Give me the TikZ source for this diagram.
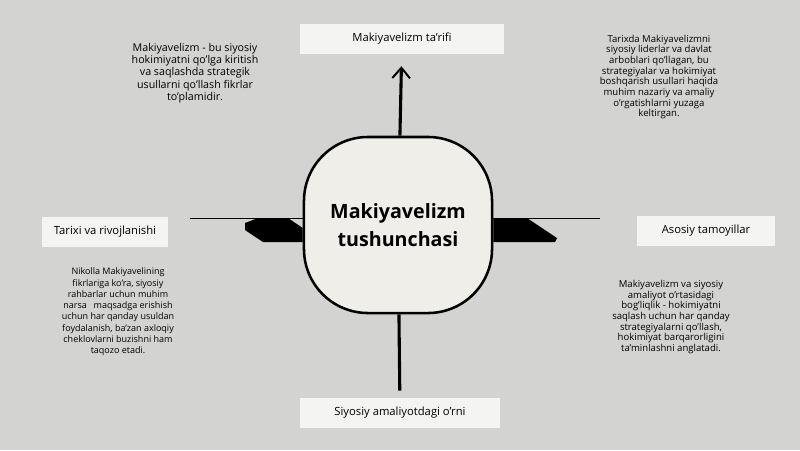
\documentclass[tikz,border=0pt]{standalone}
\usepackage{fontspec}
\setmainfont{Open Sans}
\usepackage{tikz}
\usetikzlibrary{arrows.meta,positioning}
\definecolor{bgray}{HTML}{D3D3D1}
\definecolor{paper}{HTML}{F4F4F2}
\definecolor{core}{HTML}{EFEEE9}

\begin{document}
\begin{tikzpicture}[x=0.025cm,y=-0.025cm]
	  \tikzstyle{label_box}=[rectangle,fill=paper,minimum height=7.5mm,font=\fontsize{8}{10}\selectfont,inner sep=2pt]
	  \tikzstyle{core_box}=[rectangle,rounded corners=16mm,line width=1.8pt,draw=black,fill=core,
				  minimum width=47mm,minimum height=44mm,align=center,
				  font=\fontsize{14}{20}\selectfont\bfseries]
	  \tikzstyle{note}=[align=center,font=\fontsize{6.8}{7.6}\selectfont,inner sep=0pt]
	  \tikzstyle{spoke}=[line width=2.2pt,draw=black]

	\fill[bgray] (0,0) rectangle (800,450);
	\useasboundingbox (0,0) rectangle (800,450);

	\node (center_center) [core_box] at (398,225) {Makiyavelizm\\tushunchasi};
	\node (center_top)    [label_box,minimum width=51mm] at (402,39) {Makiyavelizm ta'rifi};
	\node (center_bottom) [label_box,minimum width=50mm] at (400,413) {Siyosiy amaliyotdagi o'rni};
	\node (left_center)   [label_box,minimum width=31.5mm] at (105,232) {Tarixi va rivojlanishi};
	\node (right_center)  [label_box,minimum width=34.5mm] at (706,231) {Asosiy tamoyillar};

	\node (left_top) [note,font=\fontsize{7.6}{8.8}\selectfont] at (195,73) {Makiyavelizm - bu siyosiy\\hokimiyatni qo'lga kiritish\\va saqlashda strategik\\usullarni qo'llash fikrlar\\to'plamidir.};
	\node (right_top) [note] at (659,77) {Tarixda Makiyavelizmni\\siyosiy liderlar va davlat\\arboblari qo'llagan, bu\\strategiyalar va hokimiyat\\boshqarish usullari haqida\\muhim nazariy va amaliy\\o'rgatishlarni yuzaga\\keltirgan.};
	\node (left_bottom) [note,font=\fontsize{6.4}{8}\selectfont] at (118,312) {Nikolla Makiyavelining\\fikrlariga ko'ra, siyosiy\\rahbarlar uchun muhim\\narsa \enspace maqsadga erishish\\uchun har qanday usuldan\\foydalanish, ba'zan axloqiy\\cheklovlarni buzishni ham\\taqozo etadi.};
	\node (right_bottom) [note] at (671,317) {Makiyavelizm va siyosiy\\amaliyot o'rtasidagi\\bog'liqlik - hokimiyatni\\saqlash uchun har qanday\\strategiyalarni qo'llash,\\hokimiyat barqarorligini\\ta'minlashni anglatadi.};

	\coordinate (left_end) at (190,218);
	\coordinate (right_end) at (600,218);

	\draw[spoke,-{Straight Barb[length=2.6mm,width=4.4mm,line width=1.4pt]},shorten >=8.5pt] (center_center) -- (center_top);
	\draw[spoke,shorten >=5pt] (center_center) -- (center_bottom);
	\draw[thin] (center_center.west |- left_end) -- (left_end);
	\draw[thin] (center_center.east |- right_end) -- (right_end);
	\fill (center_center.west |- 0,228) -- (288,218) -- (258,218) -- (245,223) -- (245,230) -- (263,242) -- (center_center.west |- 0,242) -- cycle;
	\fill (center_center.east |- 0,218) -- (527,218) -- (557,238) -- (555,242) -- (center_center.east |- 0,242) -- cycle;

		%\draw (left_center) -- (center_center);
		%\draw (right_center) -- (center_center);
	\end{tikzpicture}
\end{document}
